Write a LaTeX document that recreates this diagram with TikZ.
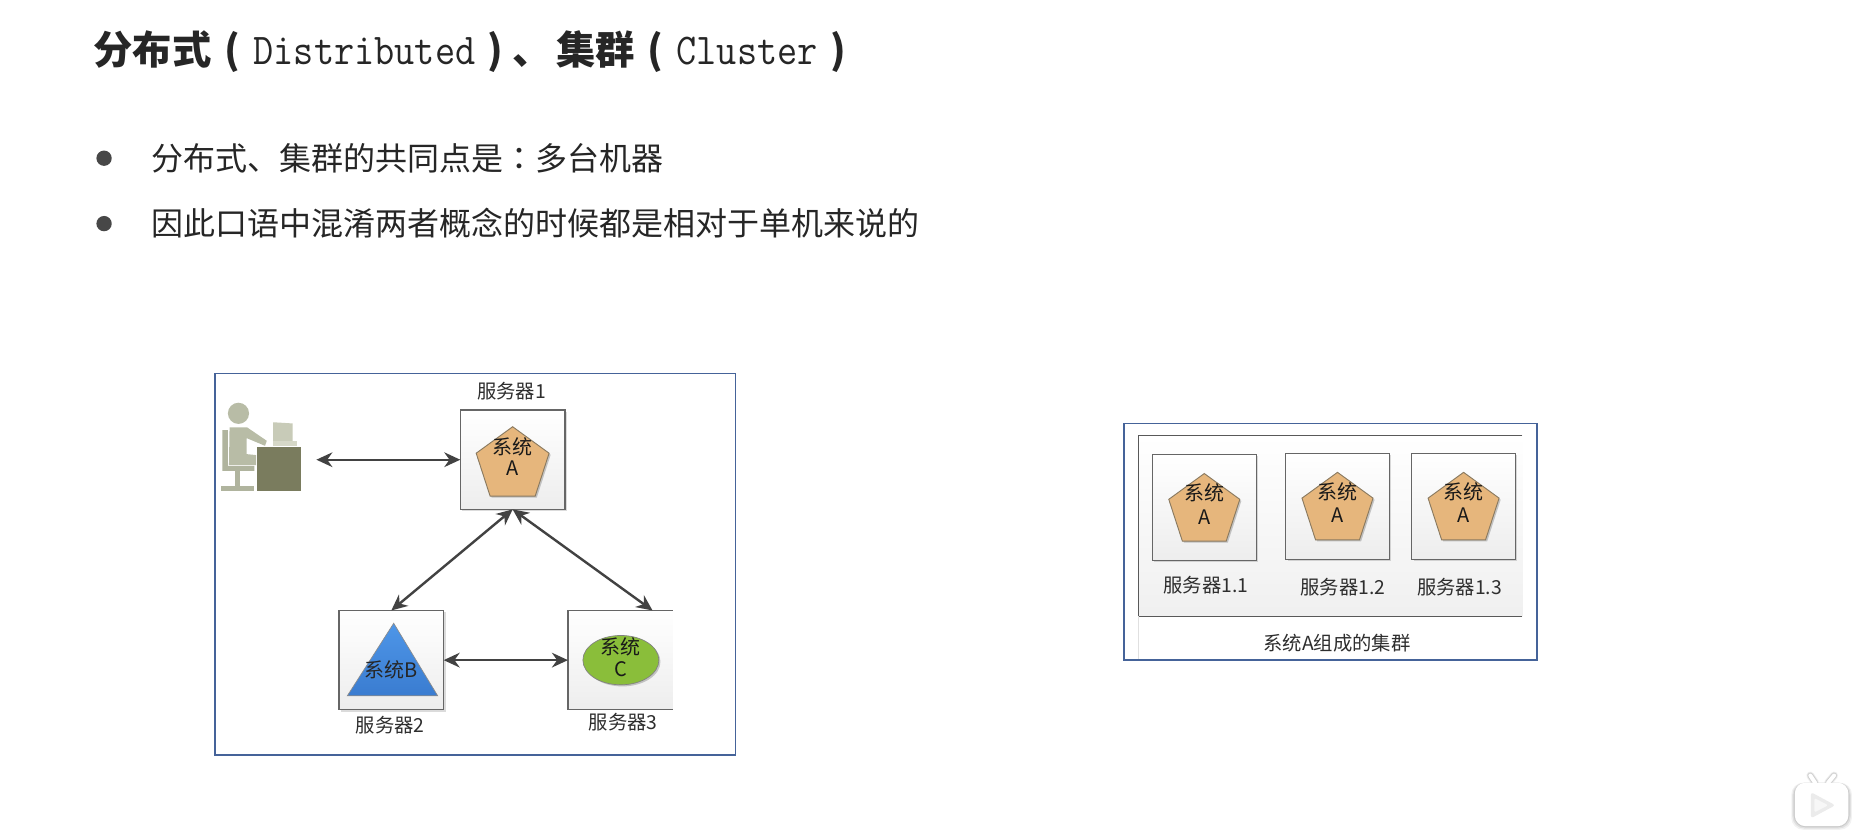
\documentclass[tikz,border=0pt]{standalone}
\usepackage{fontspec}
\setmainfont{Noto Sans CJK SC}
\newfontfamily\tcfont{Noto Sans CJK TC}
\newfontfamily\monoface[FakeStretch=0.89]{Latin Modern Mono}
\usetikzlibrary{arrows.meta,shapes.geometric,shadows,calc}
\definecolor{panelblue}{HTML}{456399}
\definecolor{boxline}{HTML}{666666}
\definecolor{inktext}{HTML}{2E2E2E}
\definecolor{arrowink}{HTML}{424242}
\definecolor{pentfill}{HTML}{E6B67C}
\definecolor{pentline}{HTML}{8A7A60}
\definecolor{tritop}{HTML}{4E96E8}
\definecolor{tribot}{HTML}{3A7CD0}
\definecolor{ellgreen}{HTML}{8ABE3A}
\definecolor{deskc}{HTML}{7A7C5E}
\definecolor{monc}{HTML}{C8CBB8}
\definecolor{monb}{HTML}{D6D8C8}
\definecolor{chairc}{HTML}{B0B49E}
\definecolor{bodyc}{HTML}{B8BCA6}
\newcommand{\slotc}[2]{\makebox[0.75\dimexpr #1pt\relax][c]{#2}}
\newcommand{\slotl}[2]{\makebox[0.75\dimexpr #1pt\relax][l]{#2}}
\newcommand{\fs}[1]{\fontsize{#1}{#1}\selectfont}
\tikzset{
  x=0.89205pt,y=-0.89205pt,
  panelframe/.style={draw=panelblue,line width=1.2pt,fill=white},
  srvbox/.style={draw=boxline,line width=0.9pt,top color=white,bottom color=black!7,
    minimum width=78.5pt,minimum height=74.5pt,inner sep=0pt,outer sep=0pt,
    drop shadow={shadow xshift=1.4pt,shadow yshift=-1.4pt,opacity=.14,fill=black}},
  pentshape/.style={regular polygon,regular polygon sides=5,fill=pentfill,draw=pentline,line width=.7pt,
    minimum size=57.5pt,inner sep=0pt,outer sep=0pt,
    drop shadow={shadow xshift=1.2pt,shadow yshift=-1.2pt,opacity=.2,fill=black}},
  shapetext/.style={inner sep=0pt,text=black!90,font=\fs{15}},
  srvlabel/.style={inner sep=0pt,text=inktext,font=\fs{14.5}},
  biarrow/.style={{Stealth[length=12pt,width=11pt]}-{Stealth[length=12pt,width=11pt]},draw=arrowink,line width=1.8pt},
  titletext/.style={anchor=west,inner sep=0pt,text=black!85,font=\fs{29.5}},
  bodytext/.style={anchor=west,inner sep=0pt,text=black!85,font=\fs{24}},
  bulletdot/.style={circle,fill=black!72,minimum size=11.5pt,inner sep=0pt},
}
\begin{document}
\begin{tikzpicture}
\useasboundingbox (0,0) rectangle (1568,704.6);
\fill[white] (0,0) rectangle (1568,704.6);
% title and bullets
\node[titletext] (title) at (78.5,43) {\slotl{118}{\bfseries 分布式}\slotc{42}{\bfseries (}\slotl{225}{\monoface\fs{33}Distributed}\slotc{34}{\bfseries )}\slotl{44}{\bfseries 、}\slotl{78}{\bfseries 集群}\slotc{42}{\bfseries (}\slotl{142}{\monoface\fs{33}Cluster}\slotc{39}{\bfseries )}};
\node[bulletdot] (b1) at (87.5,133) {};
\node[bodytext] (l1) at (127,133) {分布式、集群的共同点是{\tcfont ：}多台机器};
\node[bulletdot] (b2) at (87.5,188) {};
\node[bodytext] (l2) at (127,187.5) {因此口语中混淆两者概念的时候都是相对于单机来说的};
% left panel
\draw[panelframe] (181,314) rectangle (618.5,635);
\node[srvlabel] (lab1) at (430,329) {服务器1};
\node[srvbox] (A) at (431,386.5) {};
\node[pentshape] (pa) at (431,391) {};
\node[shapetext] (pat1) at (431,376) {系统};
\node[shapetext] (pat2) at (431,394) {A};
\node[srvbox] (B) at (329,555) {};
\shade[top color=tritop,bottom color=tribot] (331,524) -- (368,585) -- (292,585) -- cycle;
\draw[black!45,line width=.5pt] (331,524) -- (368,585) -- (292,585) -- cycle;
\node[shapetext,text=black!85] (bt) at (329,563) {系统B};
% C box, cut at its right edge
\node[inner sep=0pt,outer sep=0pt,minimum width=78.5pt,minimum height=74.5pt] (C) at (521.5,555) {};
\shade[top color=white,bottom color=black!7] (C.north west) rectangle (C.south east);
\draw[boxline,line width=.9pt] (C.north east) -- (C.north west) -- (C.south west) -- (C.south east);
\node[ellipse,minimum width=57pt,minimum height=37pt,fill=ellgreen,draw=black!50,line width=.5pt,inner sep=0pt,
  drop shadow={shadow xshift=1.2pt,shadow yshift=-1.2pt,opacity=.2,fill=black}] (ec) at (522,555) {};
\node[shapetext] (ct1) at (522,544) {系统};
\node[shapetext] (ct2) at (522,563) {C};
\node[srvlabel] (lab2) at (328,610) {服务器2};
\node[srvlabel] (lab3) at (524,607) {服务器3};
% user
\fill[deskc] (216.2,376) rectangle (253.4,413);
\fill[monc] (229.7,355) -- (246,356) -- (246,370.6) -- (229.7,370.6) -- cycle;
\fill[monb] (229.7,370.6) rectangle (250,375);
\fill[chairc] (187,361.6) -- (191.5,361.6) -- (191.5,391.6) -- (213.9,391.6) -- (213.9,395.8) -- (187,395.8) -- cycle;
\fill[chairc] (197.4,396) rectangle (201.9,409);
\fill[chairc] (186,409) rectangle (213.9,413);
\fill[bodyc] (193,359.4) -- (207.9,359.4) -- (224.3,370.6) -- (222.8,374.8) -- (207.3,368.3) -- (207.3,381.8) -- (215.4,382.6) -- (215.4,391) -- (192.5,391) -- cycle;
\fill[bodyc] (200.5,347.5) circle[radius=8.9];
\coordinate (userport) at (266,386.5);
% connectors
\draw[biarrow] (userport) -- (A.west);
\draw[biarrow] (A.south) -- (B.north);
\draw[biarrow] (A.south) -- (C.57.7);
\draw[biarrow] (B.east) -- (C.west);
% right panel
\draw[panelframe] (945,356) rectangle (1292,555);
\shade[top color=white,bottom color=black!6] (957,366) rectangle (1280,518);
\draw[black!65,line width=.9pt] (1280,366) -- (957,366) -- (957,518) -- (1280,518);
\draw[black!12,line width=.7pt] (957,518) -- (957,554);
\foreach \nm/\cx/\cy/\tx/\ty/\lbl in {1/1012.5/426.5/1014/492/服务器1.1,2/1124.5/425.5/1129/494/服务器1.2,3/1230.5/425.5/1227/494/服务器1.3}{
  \node[srvbox,minimum height=79.5pt,minimum width=77.8pt] (S\nm) at (\cx,\cy) {};
  \node[pentshape,minimum size=56pt] (P\nm) at (\cx,\cy+3) {};
  \node[shapetext] (Pa\nm) at (\cx,\cy-12) {系统};
  \node[shapetext] (Pb\nm) at (\cx,\cy+8) {A};
  \node[srvlabel] (L\nm) at (\tx,\ty) {\lbl};
}
\node[srvlabel] (capt) at (1124,541) {系统A组成的集群};
% watermark play badge
\foreach \o/\g in {3/.05,2/.07,1/.09}{
  \fill[black,opacity=\g,rounded corners=9pt] (1509-\o,658) rectangle (1554+\o,694.6+\o);
  \draw[black,opacity=\g,line width=3pt+\o*1pt,line cap=round] (1526,658) -- (1522,652);
  \draw[black,opacity=\g,line width=3pt+\o*1pt,line cap=round] (1537,658) -- (1542,652);
}
\draw[line width=3pt,white,line cap=round] (1526,658) -- (1522,652);
\draw[line width=3pt,white,line cap=round] (1537,658) -- (1542,652);
\fill[white,rounded corners=8pt] (1509,658) rectangle (1554,694.6);
\fill[black!8,rounded corners=2pt] (1522.5,666) -- (1543,677) -- (1522.5,688) -- cycle;
\fill[white!97!black,rounded corners=1pt] (1525.5,671) -- (1537,677) -- (1525.5,683) -- cycle;
\end{tikzpicture}
\end{document}
